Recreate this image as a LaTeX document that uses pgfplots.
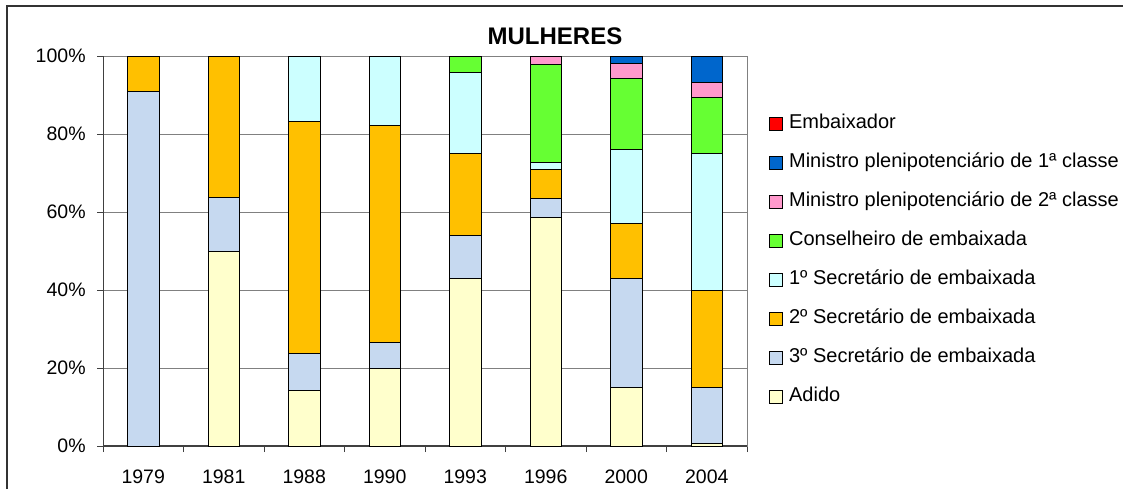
\documentclass[border=0pt]{standalone}
\usepackage{pgfplots}
\pgfplotsset{compat=1.18}
\usepackage{pgfplotstable}
\usepackage{fontspec}
\setmainfont{Liberation Sans}

\definecolor{cadido}{HTML}{FFFFCC}
\definecolor{cterc}{HTML}{C6D9F0}
\definecolor{cseg}{HTML}{FFC000}
\definecolor{cprim}{HTML}{CCFFFF}
\definecolor{ccons}{HTML}{66FF33}
\definecolor{cmin2}{HTML}{FF99CC}
\definecolor{cmin1}{HTML}{0066CC}
\definecolor{cemb}{HTML}{FF0000}

% shares of women per rank, in %
\pgfplotstableread{
x adido terc seg prim cons min2 min1
0 0    90.8 9.2  0    0    0   0
1 50.0 13.6 36.4 0    0    0   0
2 14.3 9.5  59.5 16.7 0    0   0
3 20.0 6.5  55.7 17.8 0    0   0
4 42.9 11.0 21.1 20.7 4.3  0   0
5 58.6 4.9  7.3  1.9  25.2 2.1 0
6 15.0 27.9 14.1 19.1 18.1 4.0 1.8
7 0.6  14.4 25.0 35.0 14.3 4.0 6.7
}\mulheres

\pgfplotsset{
  seg/.style={fill=#1, draw=black, line width=0.5pt,
    legend image code/.code={\draw[fill=#1, draw=black, line width=0.4pt] (0pt,-3.25pt) rectangle (6.5pt,3.25pt);}},
}

\begin{document}
\begin{tikzpicture}[x=1pt,y=1pt]
\useasboundingbox (0,0) rectangle (561.5,244.5);
\begin{axis}[
    at={(51.5pt,21.5pt)}, anchor=south west,
    scale only axis, width=322pt, height=195pt,
    ybar stacked, bar width=15.75pt,
    xmin=-0.5, xmax=7.5, ymin=0, ymax=100,
    xtick={0,...,7},
    xticklabels={1979,1981,1988,1990,1993,1996,2000,2004},
    major x tick style={draw=none},
    minor xtick={-0.5,0.5,...,7.5},
    ytick={0,20,...,100},
    yticklabels={0\%,20\%,40\%,60\%,80\%,100\%},
    tick pos=left, tick align=outside,
    major tick length=3pt, minor tick length=3pt,
    tick style={black!75, line width=0.5pt},
    ymajorgrids, grid style={black!50, line width=0.5pt},
    axis line style={black!50, line width=0.5pt},
    ticklabel style={font=\fontsize{9.75}{11}\selectfont},
    yticklabel style={inner sep=0pt, xshift=-5.5pt},
    xticklabel style={inner sep=0pt, yshift=-8.5pt},
    legend style={at={(1.034,0.85)}, anchor=north west, draw=none, fill=none,
      inner sep=0pt, row sep=10.5pt, font=\fontsize{10}{12}\selectfont,
      nodes={inner sep=0pt, text height=7pt, text depth=2pt, anchor=west},
      /tikz/every odd column/.append style={column sep=3pt}},
    legend cell align=left,
    reverse legend,
]
\addplot[seg=cadido] table[x=x, y=adido] {\mulheres};
\addplot[seg=cterc] table[x=x, y=terc] {\mulheres};
\addplot[seg=cseg] table[x=x, y=seg] {\mulheres};
\addplot[seg=cprim] table[x=x, y=prim] {\mulheres};
\addplot[seg=ccons] table[x=x, y=cons] {\mulheres};
\addplot[seg=cmin2] table[x=x, y=min2] {\mulheres};
\addplot[seg=cmin1] table[x=x, y=min1] {\mulheres};
\addlegendimage{seg=cemb}
\legend{Adido, 3º Secretário de embaixada, 2º Secretário de embaixada,
  1º Secretário de embaixada, Conselheiro de embaixada,
  Ministro plenipotenciário de 2ª classe, Ministro plenipotenciário de 1ª classe,
  Embaixador}
\draw[black!75, line width=0.75pt] (rel axis cs:0,1) -- (rel axis cs:0,0) -- (rel axis cs:1,0);
\end{axis}
\node[font=\bfseries\fontsize{12}{14}\selectfont] at (277.5,226.5) {MULHERES};
\draw[black!80, line width=1pt] (3.5,0) -- (3.5,241.5) -- (561.5,241.5);
\end{tikzpicture}
\end{document}
